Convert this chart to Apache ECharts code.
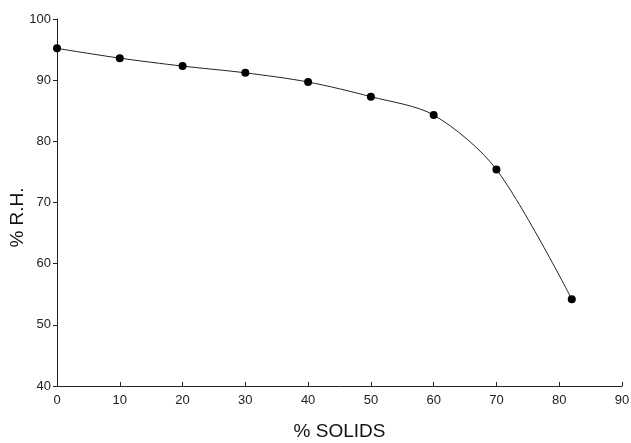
<!DOCTYPE html>
<html lang="en">
<head>
    <meta charset="UTF-8">
    <title>% R.H. vs % Solids</title>
    <style>
        html, body { margin: 0; padding: 0; background: #fff; }
    </style>
</head>
<body>
    <div id="myChart" style="width: 631px;height:443px;"></div>
</body>
<script src="https://cdn.jsdelivr.net/npm/echarts@6/dist/echarts.min.js"></script>
<script>
    let solids = [0, 10, 20, 30, 40, 50, 60, 70, 82];
    let rh = [95.2, 93.6, 92.3, 91.2, 89.7, 87.3, 84.3, 75.4, 54.2];
    let xTicks = [0, 10, 20, 30, 40, 50, 60, 70, 80, 90];
    let yTicks = [40, 50, 60, 70, 80, 90, 100];

    let chart = echarts.init(document.getElementById('myChart'));
    let font = 'Liberation Sans';

    let option = {
      animation: false,
      grid: { left: 57, right: 9, top: 19, bottom: 57, outerBoundsMode: 'none', containLabel: false },
      xAxis: {
        type: 'value',
        min: xTicks[0],
        max: xTicks[xTicks.length - 1],
        interval: 10,
        name: '% SOLIDS',
        nameLocation: 'middle',
        nameGap: 36,
        nameMoveOverlap: false,
        nameTextStyle: { fontFamily: font, fontSize: 19, color: '#111' },
        axisLine: { lineStyle: { color: '#222', width: 1 } },
        axisTick: { inside: true, length: 4, lineStyle: { color: '#222' } },
        axisLabel: { fontFamily: font, fontSize: 13, color: '#222', margin: 8 },
        splitLine: { show: false }
      },
      yAxis: {
        type: 'value',
        min: yTicks[0],
        max: yTicks[yTicks.length - 1],
        interval: 10,
        name: '% R.H.',
        nameLocation: 'middle',
        nameRotate: 90,
        nameGap: 30,
        nameMoveOverlap: false,
        nameTextStyle: { fontFamily: font, fontSize: 19, color: '#111', padding: [0, 30, 0, 0] },
        axisLine: { show: true, lineStyle: { color: '#222', width: 1 } },
        axisTick: { show: true, length: 4, lineStyle: { color: '#222' } },
        axisLabel: { fontFamily: font, fontSize: 13, color: '#222', margin: 6 },
        splitLine: { show: false }
      },
      series: [{
        type: 'line',
        data: solids.map((s, i) => [s, rh[i]]),
        smooth: 0.3,
        symbol: 'circle',
        symbolSize: 8,
        itemStyle: { color: '#000' },
        lineStyle: { color: '#222', width: 1 }
      }]
    };
    chart.setOption(option);
</script>
</html>
